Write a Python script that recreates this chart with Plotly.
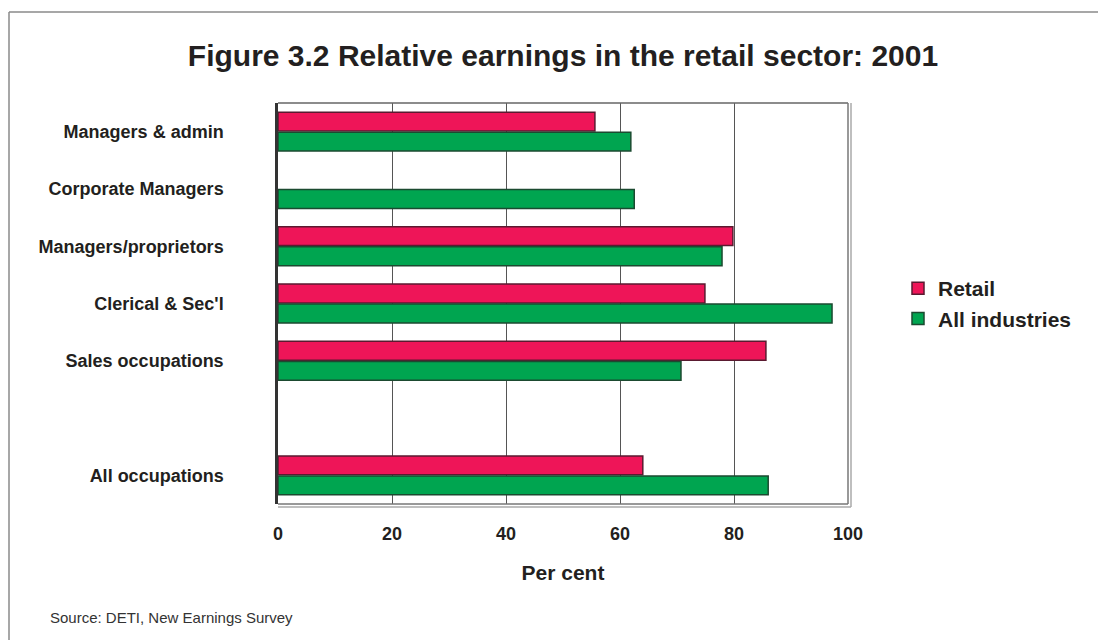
import plotly.graph_objects as go

# Occupation groups (blank entry leaves a gap before the overall total)
categories = ["Managers & admin", "Corporate Managers", "Managers/proprietors",
              "Clerical & Sec'l", "Sales occupations", " ", "All occupations"]
retail = [55.6, None, 79.8, 74.9, 85.6, None, 64.0]
all_industries = [61.9, 62.5, 77.9, 97.2, 70.7, None, 86.0]
x_ticks = [0, 20, 40, 60, 80, 100]

W, H = 1098, 640
ML, MR, MT, MB = 278, 250, 103, 136
PW, PH = W - ML - MR, H - MT - MB

FONT = "Liberation Sans, Arial, Helvetica, sans-serif"
TXT = "#231f20"
PINK = "#ee1558"
GREEN = "#00a550"


def px_x(p):
    return (p - ML) / PW


def px_y(p):
    return (H - MB - p) / PH


fig = go.Figure()
fig.add_trace(go.Bar(
    y=categories, x=retail, name="<b>Retail</b>", orientation="h",
    marker=dict(color=PINK, line=dict(color="#5a1a30", width=1.5)),
))
fig.add_trace(go.Bar(
    y=categories, x=all_industries, name="<b>All industries</b>", orientation="h",
    marker=dict(color=GREEN, line=dict(color="#1b4a30", width=1.5)),
))

shapes = [
    # outer page frame (top and left edges)
    dict(type="line", xref="paper", yref="paper", x0=px_x(9), x1=px_x(1100),
         y0=px_y(12), y1=px_y(12), line=dict(color="#8a8a8a", width=1.5)),
    dict(type="line", xref="paper", yref="paper", x0=px_x(9), x1=px_x(9),
         y0=px_y(12), y1=px_y(645), line=dict(color="#8a8a8a", width=1.5)),
    # plot frame: top, right with shadow, bottom with shadow
    dict(type="line", xref="paper", yref="paper", x0=0, x1=1, y0=1, y1=1,
         line=dict(color="#666666", width=1.5)),
    dict(type="line", xref="paper", yref="paper", x0=1, x1=1, y0=0, y1=1,
         line=dict(color="#777777", width=1.5)),
    dict(type="line", xref="paper", yref="paper", x0=px_x(ML + PW + 3), x1=px_x(ML + PW + 3),
         y0=px_y(H - MB + 3), y1=1, line=dict(color="#aaaaaa", width=1.5)),
    dict(type="line", xref="paper", yref="paper", x0=0, x1=1, y0=0, y1=0,
         line=dict(color="#777777", width=1.5)),
    dict(type="line", xref="paper", yref="paper", x0=0, x1=px_x(ML + PW + 3),
         y0=px_y(H - MB + 3), y1=px_y(H - MB + 3), line=dict(color="#aaaaaa", width=1.5)),
]

fig.update_layout(
    width=W, height=H,
    margin=dict(l=ML, r=MR, t=MT, b=MB),
    paper_bgcolor="white", plot_bgcolor="white",
    font=dict(family=FONT, color=TXT),
    barmode="group", bargap=0.3, bargroupgap=0.06,
    title=dict(text="<b>Figure 3.2 Relative earnings in the retail sector: 2001</b>",
               x=563 / W, xanchor="center",
               y=1 - 55 / H, yanchor="middle", font=dict(size=30, color=TXT)),
    xaxis=dict(range=[0, 100], tickvals=x_ticks, ticktext=[f"<b>{v}</b>" for v in x_ticks],
               showgrid=True, gridcolor="#555555", gridwidth=1, zeroline=False,
               showline=False, ticks="", ticklabelstandoff=17,
               tickfont=dict(size=18, color=TXT),
               title=dict(text="<b>Per cent</b>", font=dict(size=21, color=TXT), standoff=22)),
    yaxis=dict(categoryorder="array", categoryarray=categories, autorange="reversed",
               tickvals=categories, ticktext=[f"<b>{c}</b>" for c in categories],
               showgrid=False, zeroline=False, showline=True, linecolor="#333333",
               linewidth=2.5, ticks="", ticklabelstandoff=48,
               tickfont=dict(size=18, color=TXT)),
    legend=dict(x=px_x(898), y=px_y(268), xanchor="left", yanchor="top",
                traceorder="normal", font=dict(size=21, color=TXT),
                bgcolor="rgba(0,0,0,0)", itemwidth=30),
    shapes=shapes,
    annotations=[dict(text="Source: DETI, New Earnings Survey", xref="paper", yref="paper",
                      x=px_x(48), y=px_y(617), xanchor="left", yanchor="middle",
                      showarrow=False, font=dict(size=15, color="#333333"))],
)

fig.write_html("out.html")
